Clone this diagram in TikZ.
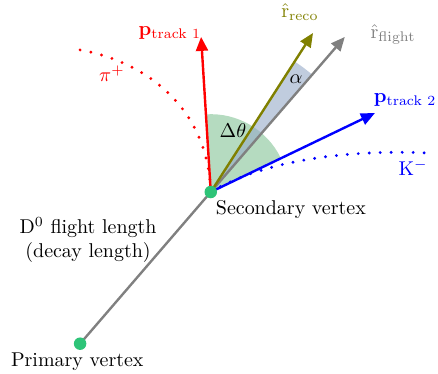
\documentclass[tikz,border=0pt]{standalone}
\usepackage{amsmath}
\usepackage{amssymb}
\usetikzlibrary{arrows.meta,backgrounds,calc}
\definecolor{vertexgreen}{RGB}{46,196,120}
\definecolor{wedgegreen}{RGB}{120,190,140}
\definecolor{wedgeblue}{RGB}{150,170,200}
\definecolor{recoolive}{RGB}{128,128,0}

\begin{document}
\begin{tikzpicture}[
    vertex/.style={circle, fill=vertexgreen, inner sep=0pt, minimum size=0.22cm},
    lbl/.style={font=\normalsize, inner sep=1pt},
    vec/.style={-{Triangle[length=7pt,width=6pt]}, line width=1.2pt},
    track/.style={line width=1.6pt, line cap=round, dash pattern=on 0pt off 5.5pt},
    wedge/.style={fill opacity=0.55}
]
\useasboundingbox (0,0) rectangle (7.71,6.58);

% ============ vertices and arrow ends ============
\node[vertex] (pv) at (1.41,0.53) {};
\node[vertex] (sv) at (3.71,3.20) {};

\coordinate (tip-t1) at (3.54,5.93);
\coordinate (tip-reco) at (5.51,6.00);
\coordinate (tip-flight) at (6.07,5.93);
\coordinate (tip-t2) at (6.60,4.59);
\coordinate (pi-end) at (1.41,5.70);
\coordinate (k-end) at (7.65,3.88);

% ============ wedges, lines, tracks ============
\begin{scope}[on background layer]
\fill[wedge, wedgegreen] (sv.center) -- ++(25.7:1.37) arc[start angle=25.7, end angle=93.7, radius=1.37] -- cycle;
\fill[wedge, wedgeblue, fill opacity=0.6] (sv.center) -- ++(49.2:2.73) arc[start angle=49.2, end angle=57.3, radius=2.73] -- cycle;

\draw[gray, line width=1.2pt] (pv.center) -- (sv.center);
\draw[vec, gray] (sv.center) -- (tip-flight);
\draw[vec, recoolive] (sv.center) -- (tip-reco);
\draw[vec, red] (sv.center) -- (tip-t1);
\draw[vec, blue] (sv.center) -- (tip-t2);

\draw[track, red] (pi-end) .. controls (2.55,5.5) and (3.66,4.7) .. (sv.center);
\draw[track, blue] (sv.center) .. controls (4.8,3.85) and (6.5,3.95) .. (k-end);
\end{scope}

% ============ labels ============
\node[lbl, text=red] (lbl-t1) at (2.99,6.00) {$\mathbf{p}_{\text{track 1}}$};
\node[lbl, text=recoolive] (lbl-reco) at (5.28,6.36) {$\hat{\mathrm{r}}_{\mathrm{reco}}$};
\node[lbl, text=gray] (lbl-flight) at (6.92,5.97) {$\hat{\mathrm{r}}_{\mathrm{flight}}$};
\node[lbl, text=blue] (lbl-t2) at (7.13,4.82) {$\mathbf{p}_{\text{track 2}}$};
\node[lbl, text=blue] (lbl-k) at (7.27,3.63) {$\mathrm{K}^{-}$};
\node[lbl, text=red] (lbl-pi) at (1.97,5.28) {$\pi^{+}$};
\node[lbl] (lbl-alpha) at (5.21,5.19) {$\alpha$};
\node[lbl] (lbl-dtheta) at (4.10,4.28) {$\Delta\theta$};
\node[lbl] (lbl-sv) at (5.12,2.90) {Secondary vertex};
\node[lbl, align=center] (lbl-len) at (1.55,2.36) {$\mathrm{D}^0$ flight length\\(decay length)};
\node[lbl] (lbl-pv) at (1.36,0.21) {Primary vertex};

\end{tikzpicture}
\end{document}
